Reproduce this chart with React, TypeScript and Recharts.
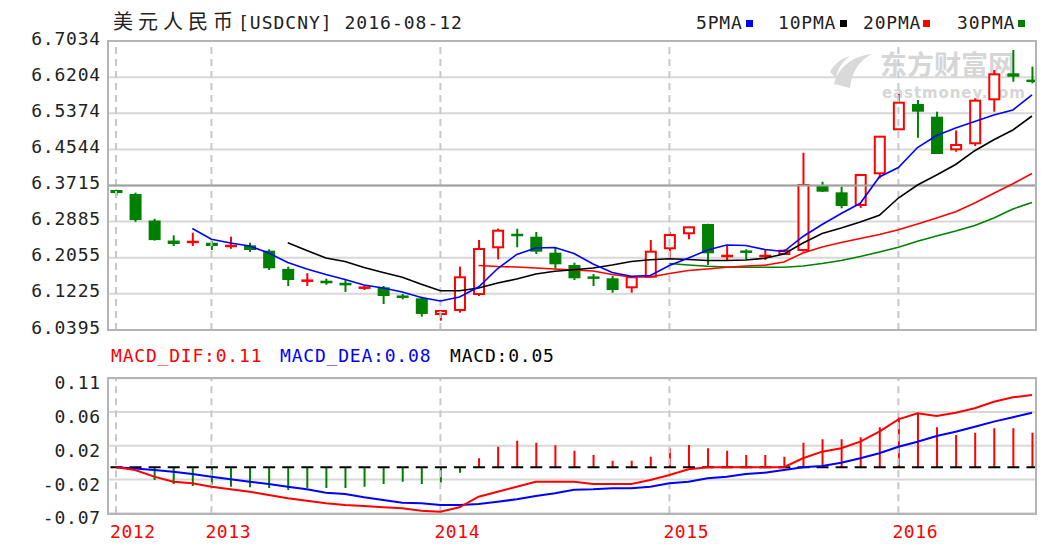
import React from "react";
import {
  Bar,
  CartesianGrid,
  ComposedChart,
  Line,
  ReferenceLine,
  XAxis,
  YAxis,
} from "recharts";

// monthly candles, 2012-08 .. 2016-08
const open = [
  6.3611, 6.352, 6.291, 6.245, 6.241, 6.24, 6.2318, 6.234, 6.2217, 6.18,
  6.1522, 6.1528, 6.148, 6.1344, 6.1376, 6.1165, 6.1123, 6.0763, 6.0855, 6.1222,
  6.2295, 6.2585, 6.2538, 6.2171, 6.1888, 6.1605, 6.1583, 6.1376, 6.162, 6.2272,
  6.2617, 6.283, 6.209, 6.22, 6.209, 6.2141, 6.2233, 6.3726, 6.3558, 6.3267,
  6.3995, 6.5006, 6.5587, 6.5295, 6.4546, 6.4684, 6.5695, 6.6292, 6.6138,
];
const close = [
  6.354, 6.292, 6.246, 6.237, 6.2425, 6.2325, 6.2332, 6.2233, 6.1813, 6.1544,
  6.1535, 6.1468, 6.142, 6.139, 6.1176, 6.1155, 6.0763, 6.0832, 6.1606, 6.2256,
  6.2676, 6.257, 6.2194, 6.1904, 6.1583, 6.159, 6.1314, 6.1606, 6.2194, 6.2577,
  6.2754, 6.2157, 6.21, 6.2188, 6.21, 6.2217, 6.3726, 6.3572, 6.3244, 6.3956,
  6.4836, 6.5617, 6.541, 6.4438, 6.4645, 6.5663, 6.6269, 6.6214, 6.61,
];
const high = [
  6.362, 6.355, 6.295, 6.257, 6.263, 6.244, 6.254, 6.24, 6.225, 6.185,
  6.17, 6.1574, 6.154, 6.1422, 6.1406, 6.1222, 6.116, 6.084, 6.185, 6.2463,
  6.2722, 6.2722, 6.2646, 6.2295, 6.1941, 6.1682, 6.1636, 6.1636, 6.2463, 6.2646,
  6.276, 6.2835, 6.2325, 6.2249, 6.2233, 6.2245, 6.4468, 6.3802, 6.3687, 6.396,
  6.484, 6.5817, 6.5679, 6.541, 6.498, 6.5718, 6.6368, 6.6827, 6.6444,
];
const low = [
  6.3475, 6.288, 6.245, 6.2325, 6.2325, 6.2233, 6.226, 6.2187, 6.1773, 6.1406,
  6.1406, 6.1436, 6.127, 6.1314, 6.0992, 6.11, 6.0701, 6.0609, 6.0793, 6.1176,
  6.2019, 6.2295, 6.2141, 6.1803, 6.1544, 6.1406, 6.1252, 6.1252, 6.1606, 6.2042,
  6.2479, 6.1888, 6.1986, 6.2019, 6.2003, 6.2118, 6.2194, 6.3565, 6.3191, 6.32,
  6.388, 6.499, 6.481, 6.4438, 6.4491, 6.4622, 6.541, 6.6099, 6.6062,
];

const ma5 = [
  null, null, null, null,
  6.2727, 6.2479, 6.2394, 6.2325, 6.2164, 6.1946, 6.1796, 6.167, 6.1555, 6.1429,
  6.136, 6.1268, 6.1142, 6.1061, 6.1153, 6.1383, 6.1808, 6.213, 6.2279, 6.229,
  6.2152, 6.1911, 6.1716, 6.1629, 6.1647, 6.1877, 6.2049, 6.2233, 6.2348, 6.2336,
  6.2244, 6.2198, 6.2543, 6.2819, 6.3071, 6.3306, 6.391, 6.4128, 6.4587, 6.4863,
  6.5035, 6.5185, 6.5334, 6.5449, 6.5794,
];
const ma10 = [
  null, null, null, null, null, null, null, null, null,
  6.2401, 6.2221, 6.2049, 6.1969, 6.1831, 6.1716, 6.1608, 6.1445, 6.1298, 6.1298,
  6.136, 6.1475, 6.1567, 6.1682, 6.1746, 6.1778, 6.1819, 6.1888, 6.1969, 6.201,
  6.2031, 6.2015, 6.1992, 6.199, 6.2003, 6.2042, 6.2141, 6.2394, 6.2612, 6.2738,
  6.2876, 6.303, 6.3427, 6.3726, 6.3956, 6.4197, 6.4514, 6.4764, 6.499, 6.5311,
];
const ma20 = [
  null, null, null, null, null, null, null, null, null, null,
  null, null, null, null, null, null, null, null, null,
  6.1877, 6.1854, 6.1842, 6.1819, 6.1796, 6.1773, 6.175, 6.167, 6.1613, 6.1613,
  6.1693, 6.1762, 6.1796, 6.1835, 6.1865, 6.1884, 6.1957, 6.2164, 6.2302, 6.2405,
  6.2497, 6.2589, 6.2697, 6.283, 6.2968, 6.3113, 6.3313, 6.3535, 6.3756, 6.399,
];
const ma30 = [
  null, null, null, null, null, null, null, null, null, null,
  null, null, null, null, null, null, null, null, null, null,
  null, null, null, null, null, null, null, null, null,
  6.1923, 6.1888, 6.1858, 6.1842, 6.1835, 6.1835, 6.1835, 6.1865, 6.1923, 6.1992,
  6.2084, 6.2187, 6.2297, 6.2433, 6.2555, 6.2669, 6.2796, 6.2968, 6.3175, 6.3324,
];

const macdHist = [
  -0.001, -0.002, -0.019, -0.025, -0.028, -0.026, -0.029, -0.03, -0.031, -0.034,
  -0.031, -0.031, -0.031, -0.029, -0.025, -0.0215, -0.025, -0.023, -0.008, 0.0134,
  0.0308, 0.0397, 0.0367, 0.0328, 0.0248, 0.0184, 0.0099, 0.0099, 0.0158, 0.0284,
  0.0333, 0.0284, 0.0248, 0.0184, 0.0184, 0.0158, 0.0367, 0.0418, 0.0418, 0.0448,
  0.0597, 0.0746, 0.0796, 0.0597, 0.0482, 0.0516, 0.0582, 0.0582, 0.0516,
];
const macdDif = [
  0, -0.004, -0.014, -0.0215, -0.024, -0.029, -0.0328, -0.0364, -0.0413, -0.0463,
  -0.0498, -0.0537, -0.0563, -0.0578, -0.0597, -0.0612, -0.0648, -0.0663, -0.0597, -0.0439,
  -0.0364, -0.029, -0.0215, -0.0215, -0.0215, -0.025, -0.025, -0.025, -0.019, -0.0115,
  -0.003, 0, 0, 0, 0, 0, 0.0134, 0.0233, 0.0284, 0.0382,
  0.0531, 0.0716, 0.0806, 0.0766, 0.0815, 0.088, 0.0979, 0.1045, 0.1079,
];
const macdDea = [
  0, -0.002, -0.004, -0.0066, -0.01, -0.014, -0.018, -0.0215, -0.025, -0.029,
  -0.0328, -0.0379, -0.0398, -0.0448, -0.0488, -0.0528, -0.0537, -0.0563, -0.0563, -0.0548,
  -0.0513, -0.0478, -0.0428, -0.0388, -0.0335, -0.0328, -0.0313, -0.0313, -0.029, -0.024,
  -0.0215, -0.0164, -0.014, -0.01, -0.008, -0.004, 0, 0.002, 0.0069, 0.0134,
  0.0209, 0.0307, 0.0382, 0.0467, 0.0531, 0.0606, 0.0681, 0.0746, 0.0815,
];

const priceTicks = [6.0395, 6.1225, 6.2055, 6.2885, 6.3715, 6.4544, 6.5374, 6.6204, 6.7034];
const priceTickLabels = ["6.0395", "6.1225", "6.2055", "6.2885", "6.3715", "6.4544", "6.5374", "6.6204", "6.7034"];
const macdTicks = [-0.0687, -0.0183, 0.0321, 0.0825, 0.1328];
const macdTickLabels = ["-0.07", "-0.02", "0.02", "0.06", "0.11"];
const yearIdx = [0, 5, 17, 29, 41];
const yearLabels = ["2012", "2013", "2014", "2015", "2016"];

const RED = "#ff0000";
const GREEN = "#008000";
const MONO = "'DejaVu Sans Mono', 'Noto Sans CJK SC', monospace";
const X_DOMAIN = [-0.42, 48.21];

const rows = open.map((o, i) => ({
  i,
  o,
  c: close[i],
  h: high[i],
  l: low[i],
  range: [low[i], high[i]],
  ma5: ma5[i],
  ma10: ma10[i],
  ma20: ma20[i],
  ma30: ma30[i],
  hist: macdHist[i],
  histRange: macdHist[i] >= 0 ? [0, macdHist[i]] : [macdHist[i], 0],
  dif: macdDif[i],
  dea: macdDea[i],
}));

const Candle = (props: any) => {
  const { x, y, width, height, payload } = props;
  const { o, c, h, l } = payload;
  const k = h === l ? 0 : height / (h - l);
  const py = (v: number) => y + (h - v) * k;
  const cx = x + width / 2;
  const up = c >= o;
  const color = up ? RED : GREEN;
  const top = py(Math.max(o, c));
  const bot = py(Math.min(o, c));
  if (bot - top < 2.5) {
    const my = (top + bot) / 2;
    return (
      <g>
        <line x1={cx} x2={cx} y1={py(h)} y2={py(l)} stroke={color} strokeWidth={2} />
        <line x1={x} x2={x + width} y1={my} y2={my} stroke={color} strokeWidth={2.5} />
      </g>
    );
  }
  if (up) {
    return (
      <g>
        <line x1={cx} x2={cx} y1={py(h)} y2={top} stroke={color} strokeWidth={2} />
        <line x1={cx} x2={cx} y1={bot} y2={py(l)} stroke={color} strokeWidth={2} />
        <rect x={x + 1} y={top} width={width - 2} height={bot - top} fill="#fff" stroke={color} strokeWidth={2} />
      </g>
    );
  }
  return (
    <g>
      <line x1={cx} x2={cx} y1={py(h)} y2={py(l)} stroke={color} strokeWidth={2} />
      <rect x={x} y={top} width={width} height={bot - top} fill={color} />
    </g>
  );
};

const MacdBar = (props: any) => {
  const { x, y, width, height, payload } = props;
  const v = payload.hist;
  const cx = x + width / 2;
  const zero = v >= 0 ? y + height : y;
  const end = v >= 0 ? y : y + height;
  return (
    <g>
      <line x1={cx} x2={cx} y1={zero} y2={end} stroke={v >= 0 ? RED : GREEN} strokeWidth={2} />
      <line x1={cx - 6} x2={cx + 6} y1={zero} y2={zero} stroke="#000" strokeWidth={2} />
    </g>
  );
};

const PriceTick = (props: any) => {
  const { y, payload } = props;
  const idx = priceTicks.indexOf(payload.value);
  return (
    <text x={101} y={y + 3.5} textAnchor="end" fontFamily={MONO} fontSize={18} letterSpacing={0.8} fill="#222">
      {priceTickLabels[idx]}
    </text>
  );
};

const MacdTick = (props: any) => {
  const { y, payload } = props;
  const idx = macdTicks.indexOf(payload.value);
  return (
    <text x={101} y={y + 11} textAnchor="end" fontFamily={MONO} fontSize={18} letterSpacing={0.8} fill="#222">
      {macdTickLabels[idx]}
    </text>
  );
};

const YearTick = (props: any) => {
  const { x, payload } = props;
  const idx = yearIdx.indexOf(payload.value);
  return (
    <text x={x - 6} y={198} textAnchor="start" fontFamily={MONO} fontSize={18} letterSpacing={0.6} fill={RED}>
      {yearLabels[idx]}
    </text>
  );
};

const legendItems = [
  { label: "5PMA", color: "#0000ff", left: 696, sq: 746 },
  { label: "10PMA", color: "#000000", left: 778, sq: 840 },
  { label: "20PMA", color: RED, left: 863, sq: 923 },
  { label: "30PMA", color: GREEN, left: 957, sq: 1018 },
];

const textStyle: React.CSSProperties = {
  position: "absolute",
  fontFamily: MONO,
  fontSize: 18,
  lineHeight: "18px",
  letterSpacing: 0.8,
  whiteSpace: "nowrap",
};

const App = () => {
  return (
    <div style={{ position: "absolute", left: 0, top: 0, width: 1049, height: 552, background: "#fff", overflow: "hidden" }}>
      {/* watermark */}
      <svg style={{ position: "absolute", left: 828, top: 50 }} width={48} height={40}>
        <path d="M6 34 C 10 18, 24 6, 44 4 C 32 10, 24 20, 22 38 Z" fill="#d9d9d9" />
        <path d="M2 22 C 6 14, 14 8, 22 6 C 14 12, 10 18, 8 28 Z" fill="#d9d9d9" />
      </svg>
      <div style={{ position: "absolute", left: 880, top: 50, fontFamily: "'Noto Sans CJK SC'", fontWeight: 700, fontSize: 27, lineHeight: "27px", color: "#d6d6d6", whiteSpace: "nowrap" }}>
        东方财富网
      </div>
      <div style={{ position: "absolute", left: 882, top: 86, fontFamily: "'DejaVu Sans'", fontWeight: 700, fontSize: 15, lineHeight: "15px", letterSpacing: 0.9, color: "#d6d6d6", whiteSpace: "nowrap" }}>
        eastmoney.com
      </div>

      <div style={{ ...textStyle, left: 113, top: 13, color: "#222" }}>
        <span style={{ fontSize: 20, letterSpacing: 5 }}>美元人民币</span>
        <span style={{ letterSpacing: 1 }}>[USDCNY] 2016-08-12</span>
      </div>
      {legendItems.map((it) => (
        <React.Fragment key={it.label}>
          <div style={{ ...textStyle, left: it.left, top: 14, color: "#222" }}>{it.label}</div>
          <div style={{ position: "absolute", left: it.sq, top: 20, width: 7, height: 7, background: it.color }} />
        </React.Fragment>
      ))}

      <div style={{ position: "absolute", left: 0, top: 0 }}>
        <ComposedChart width={1049} height={340} data={rows} margin={{ top: 41, right: 13, bottom: 10, left: 0 }}>
          <CartesianGrid vertical={false} stroke="#d8d8d8" strokeWidth={2} />
          <XAxis type="number" dataKey="i" domain={X_DOMAIN} hide allowDataOverflow />
          <YAxis
            type="number"
            domain={[6.0395, 6.7034]}
            ticks={priceTicks}
            width={108}
            axisLine={false}
            tickLine={false}
            tick={<PriceTick />}
            allowDataOverflow
          />
          {yearIdx.map((v) => (
            <ReferenceLine key={v} x={v} stroke="#c8c8c8" strokeWidth={2} strokeDasharray="7 5" />
          ))}
          <ReferenceLine y={6.3715} stroke="#a0a0a0" strokeWidth={2} />
          <Bar dataKey="range" barSize={12} shape={<Candle />} isAnimationActive={false} />
          <Line dataKey="ma30" stroke={GREEN} strokeWidth={1.6} dot={false} isAnimationActive={false} />
          <Line dataKey="ma20" stroke={RED} strokeWidth={1.6} dot={false} isAnimationActive={false} />
          <Line dataKey="ma10" stroke="#000" strokeWidth={1.6} dot={false} isAnimationActive={false} />
          <Line dataKey="ma5" stroke="#0000ff" strokeWidth={1.6} dot={false} isAnimationActive={false} />
        </ComposedChart>
      </div>

      <div style={{ ...textStyle, left: 111, top: 347, color: RED }}>MACD_DIF:0.11</div>
      <div style={{ ...textStyle, left: 280, top: 347, color: "#0000ff" }}>MACD_DEA:0.08</div>
      <div style={{ ...textStyle, left: 450, top: 347, color: "#000" }}>MACD:0.05</div>

      <div style={{ position: "absolute", left: 0, top: 340 }}>
        <ComposedChart width={1049} height={212} data={rows} margin={{ top: 38.3, right: 13, bottom: 0, left: 0 }}>
          <CartesianGrid vertical={false} stroke="#d8d8d8" strokeWidth={2} />
          <XAxis
            type="number"
            dataKey="i"
            domain={X_DOMAIN}
            ticks={yearIdx}
            height={38.7}
            axisLine={false}
            tickLine={false}
            tick={<YearTick />}
            allowDataOverflow
          />
          <YAxis
            type="number"
            domain={[-0.0687, 0.1328]}
            ticks={macdTicks}
            width={108}
            axisLine={false}
            tickLine={false}
            tick={<MacdTick />}
            allowDataOverflow
          />
          {yearIdx.map((v) => (
            <ReferenceLine key={v} x={v} stroke="#c8c8c8" strokeWidth={2} strokeDasharray="7 5" />
          ))}
          <Line dataKey="dea" stroke="#0000ff" strokeWidth={2} dot={false} isAnimationActive={false} />
          <Line dataKey="dif" stroke={RED} strokeWidth={2} dot={false} isAnimationActive={false} />
          <Bar dataKey="histRange" barSize={12} shape={<MacdBar />} isAnimationActive={false} />
        </ComposedChart>
      </div>

      {/* panel borders */}
      <div style={{ position: "absolute", left: 107, top: 40, width: 930, height: 291, border: "2px solid #b4b4b4", boxSizing: "border-box", pointerEvents: "none" }} />
      <div style={{ position: "absolute", left: 107, top: 377, width: 930, height: 138, border: "2px solid #b4b4b4", boxSizing: "border-box", pointerEvents: "none" }} />
    </div>
  );
};

export default App;
